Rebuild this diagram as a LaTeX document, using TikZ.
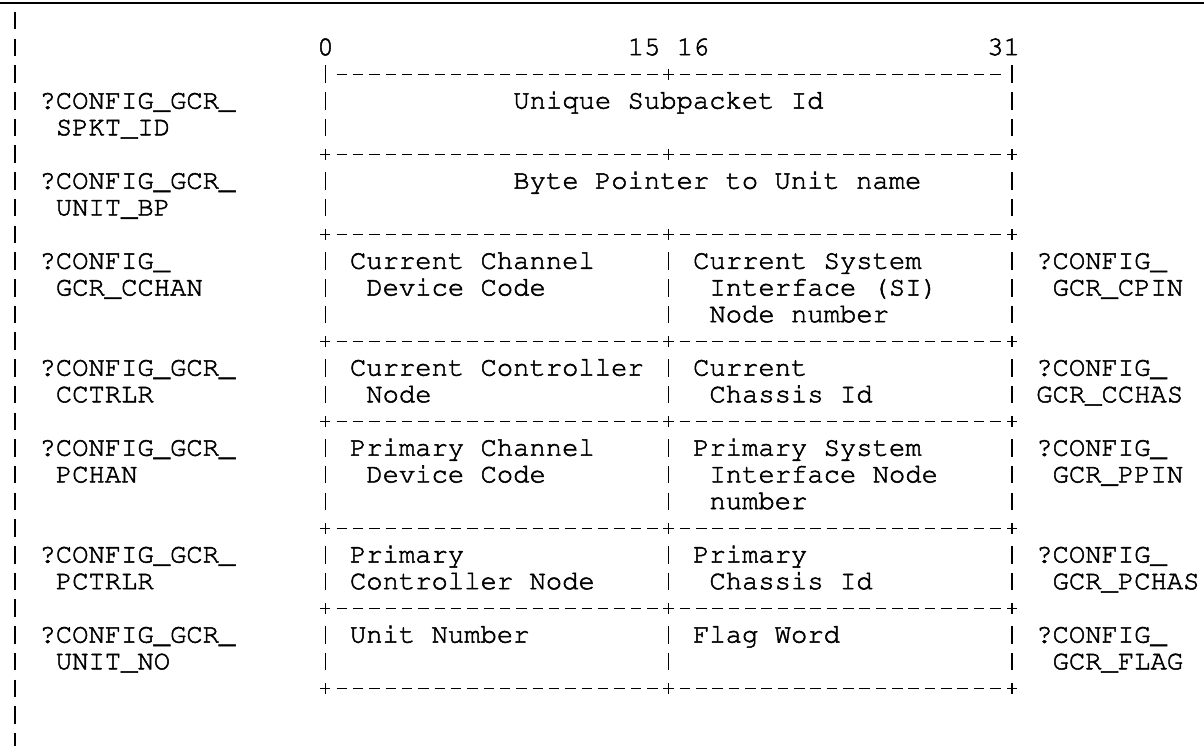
\documentclass[tikz,border=0pt]{standalone}
\usepackage[T1]{fontenc}
\newcommand\courfont{\fontencoding{T1}\fontfamily{pcr}\fontseries{m}\fontshape{n}\fontsize{27.2}{30}\selectfont\frenchspacing}
\newcommand\fakeboldon{\special{pdf:literal direct 2 Tr 0.5 w}}
\newcommand\fakeboldoff{\special{pdf:literal direct 0 Tr}}
\begin{document}
\begin{tikzpicture}[x=1pt,y=-1pt,
  declare function={cx(\c)=15+16.34*\c; ry(\r)=21+26.7*\r;},
  lbl/.style={anchor=base west, inner sep=0pt, outer sep=0pt, font=\courfont,
    execute at begin node={\fakeboldon}, execute at end node={\fakeboldoff}},
  vbar/.style={line width=1.6pt},
  hdash/.style={line width=1.6pt, dash pattern=on 10.5pt off 5.84pt},
  lbar/.style={line width=1.6pt, dash pattern=on 17.5pt off 9.2pt},
  crs/.style={line width=1.5pt},
  toprule/.style={line width=1.8pt}]
\useasboundingbox (0,0) rectangle (1204,746);
\newcommand\TX[4]{\node[lbl] (#3) at ({cx(#1)-8.17},{ry(#2)+7.5}) {#4};}
% top rule and left bar
\coordinate (tl) at (0,3);
\coordinate (tr) at (1204,3);
\draw[toprule] (tl) -- (tr);
\coordinate (lb1) at ({cx(0)},{ry(0)-9});
\coordinate (lb2) at ({cx(0)},746);
\draw[lbar] (lb1) -- (lb2);
% horizontal dashed rules
\foreach \r in {2,5,8,12,15,19,22,25}{
  \draw[hdash] ({cx(20)-5.25},{ry(\r)}) -- ({cx(60)+5.25},{ry(\r)});
}
% vertical bars
\foreach \r in {2,3,4,6,7,9,10,11,13,14,16,17,18,20,21,23,24}{
  \draw[vbar] ({cx(19)},{ry(\r)-9}) -- ++(0,17.5);
  \draw[vbar] ({cx(61)},{ry(\r)-9}) -- ++(0,17.5);
}
\foreach \r in {9,10,11,13,14,16,17,18,20,21,23,24}{
  \draw[vbar] ({cx(40)},{ry(\r)-9}) -- ++(0,17.5);
}
% plus signs
\foreach \r in {5,8,12,15,19,22,25}{
  \draw[crs] ({cx(19)-5},{ry(\r)}) -- ++(10,0) ({cx(19)},{ry(\r)-5.5}) -- ++(0,11);
  \draw[crs] ({cx(61)-5},{ry(\r)}) -- ++(10,0) ({cx(61)},{ry(\r)-5.5}) -- ++(0,11);
}
\foreach \r in {2,5,8,12,15,19,22,25}{
  \draw[crs] ({cx(40)-5},{ry(\r)}) -- ++(10,0) ({cx(40)},{ry(\r)-5.5}) -- ++(0,11);
}
% header
\TX{19}{1}{h0}{0}
\TX{38}{1}{h15}{15}
\TX{41}{1}{h16}{16}
\TX{60}{1}{h31}{31}
% left labels
\TX{2}{3}{la1}{?CONFIG\_GCR\_}
\TX{3}{4}{la2}{SPKT\_ID}
\TX{2}{6}{lb1t}{?CONFIG\_GCR\_}
\TX{3}{7}{lb2t}{UNIT\_BP}
\TX{2}{9}{lc1}{?CONFIG\_}
\TX{3}{10}{lc2}{GCR\_CCHAN}
\TX{2}{13}{ld1}{?CONFIG\_GCR\_}
\TX{3}{14}{ld2}{CCTRLR}
\TX{2}{16}{le1}{?CONFIG\_GCR\_}
\TX{3}{17}{le2}{PCHAN}
\TX{2}{20}{lf1}{?CONFIG\_GCR\_}
\TX{3}{21}{lf2}{PCTRLR}
\TX{2}{23}{lg1}{?CONFIG\_GCR\_}
\TX{3}{24}{lg2}{UNIT\_NO}
% table contents
\TX{31}{3}{ta}{Unique Subpacket Id}
\TX{31}{6}{tb}{Byte Pointer to Unit name}
\TX{21}{9}{tc1}{Current Channel}
\TX{22}{10}{tc2}{Device Code}
\TX{42}{9}{tc3}{Current System}
\TX{43}{10}{tc4}{Interface (SI)}
\TX{43}{11}{tc5}{Node number}
\TX{21}{13}{td1}{Current Controller}
\TX{22}{14}{td2}{Node}
\TX{42}{13}{td3}{Current}
\TX{43}{14}{td4}{Chassis Id}
\TX{21}{16}{te1}{Primary Channel}
\TX{22}{17}{te2}{Device Code}
\TX{42}{16}{te3}{Primary System}
\TX{43}{17}{te4}{Interface Node}
\TX{43}{18}{te5}{number}
\TX{21}{20}{tf1}{Primary}
\TX{21}{21}{tf2}{Controller Node}
\TX{42}{20}{tf3}{Primary}
\TX{43}{21}{tf4}{Chassis Id}
\TX{21}{23}{tg1}{Unit Number}
\TX{42}{23}{tg3}{Flag Word}
% right labels
\TX{63}{9}{rc1}{?CONFIG\_}
\TX{64}{10}{rc2}{GCR\_CPIN}
\TX{63}{13}{rd1}{?CONFIG\_}
\TX{63}{14}{rd2}{GCR\_CCHAS}
\TX{63}{16}{re1}{?CONFIG\_}
\TX{64}{17}{re2}{GCR\_PPIN}
\TX{63}{20}{rf1}{?CONFIG\_}
\TX{64}{21}{rf2}{GCR\_PCHAS}
\TX{63}{23}{rg1}{?CONFIG\_}
\TX{64}{24}{rg2}{GCR\_FLAG}
\end{tikzpicture}
\end{document}
